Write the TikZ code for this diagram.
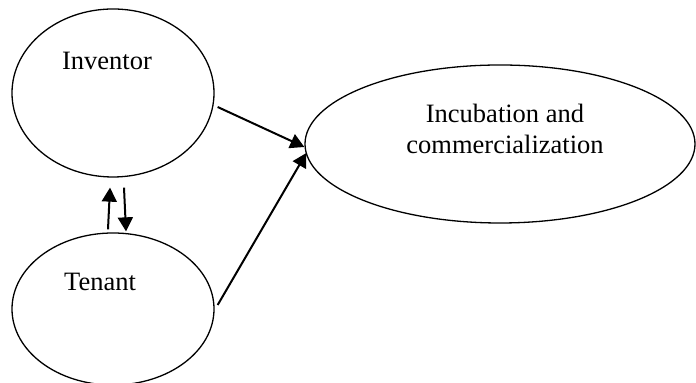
\documentclass[tikz,border=0pt]{standalone}
\usepackage{fontspec}
\setmainfont{Liberation Serif}
\usetikzlibrary{shapes.geometric,arrows.meta}
\tikzset{
  oval/.style={draw=black, line width=0.65pt, ellipse, inner sep=0pt},
  lbl/.style={anchor=base, inner sep=0pt, font=\fontsize{13.25}{16}\selectfont},
  arr/.style={line width=1pt, -{Triangle[length=7pt,width=7.5pt]}}
}
\begin{document}
\begin{tikzpicture}[x=0.5pt,y=-0.5pt]
\useasboundingbox[fill=white] (0,0) rectangle (696,383);
\node[oval, minimum width=101pt, minimum height=84pt] (inv) at (113,93) {};
\node[oval, minimum width=101pt, minimum height=76pt] (ten) at (113,309) {};
\node[oval, minimum width=195pt, minimum height=79pt] (inc) at (500,144) {};
\node[lbl] (invt) at (107,70) {Inventor};
\node[lbl] (tent) at (100,291) {Tenant};
\node[lbl] (inct1) at (505,123) {Incubation and};
\node[lbl] (inct2) at (505,154) {commercialization};
\draw[arr] ([shift={(3*0.5pt,-14*0.5pt)}]inv.east) -- ([shift={(0pt,-3*0.5pt)}]inc.west);
\draw[arr] ([shift={(3*0.5pt,4*0.5pt)}]ten.east) -- ([shift={(2*0.5pt,-9*0.5pt)}]inc.west);
\draw[arr] ([shift={(-5*0.5pt,3*0.5pt)}]ten.north) -- ([shift={(-3*0.5pt,-10*0.5pt)}]inv.south);
\draw[arr] ([shift={(11*0.5pt,-10*0.5pt)}]inv.south) -- ([shift={(13*0.5pt,1*0.5pt)}]ten.north);
\end{tikzpicture}
\end{document}
